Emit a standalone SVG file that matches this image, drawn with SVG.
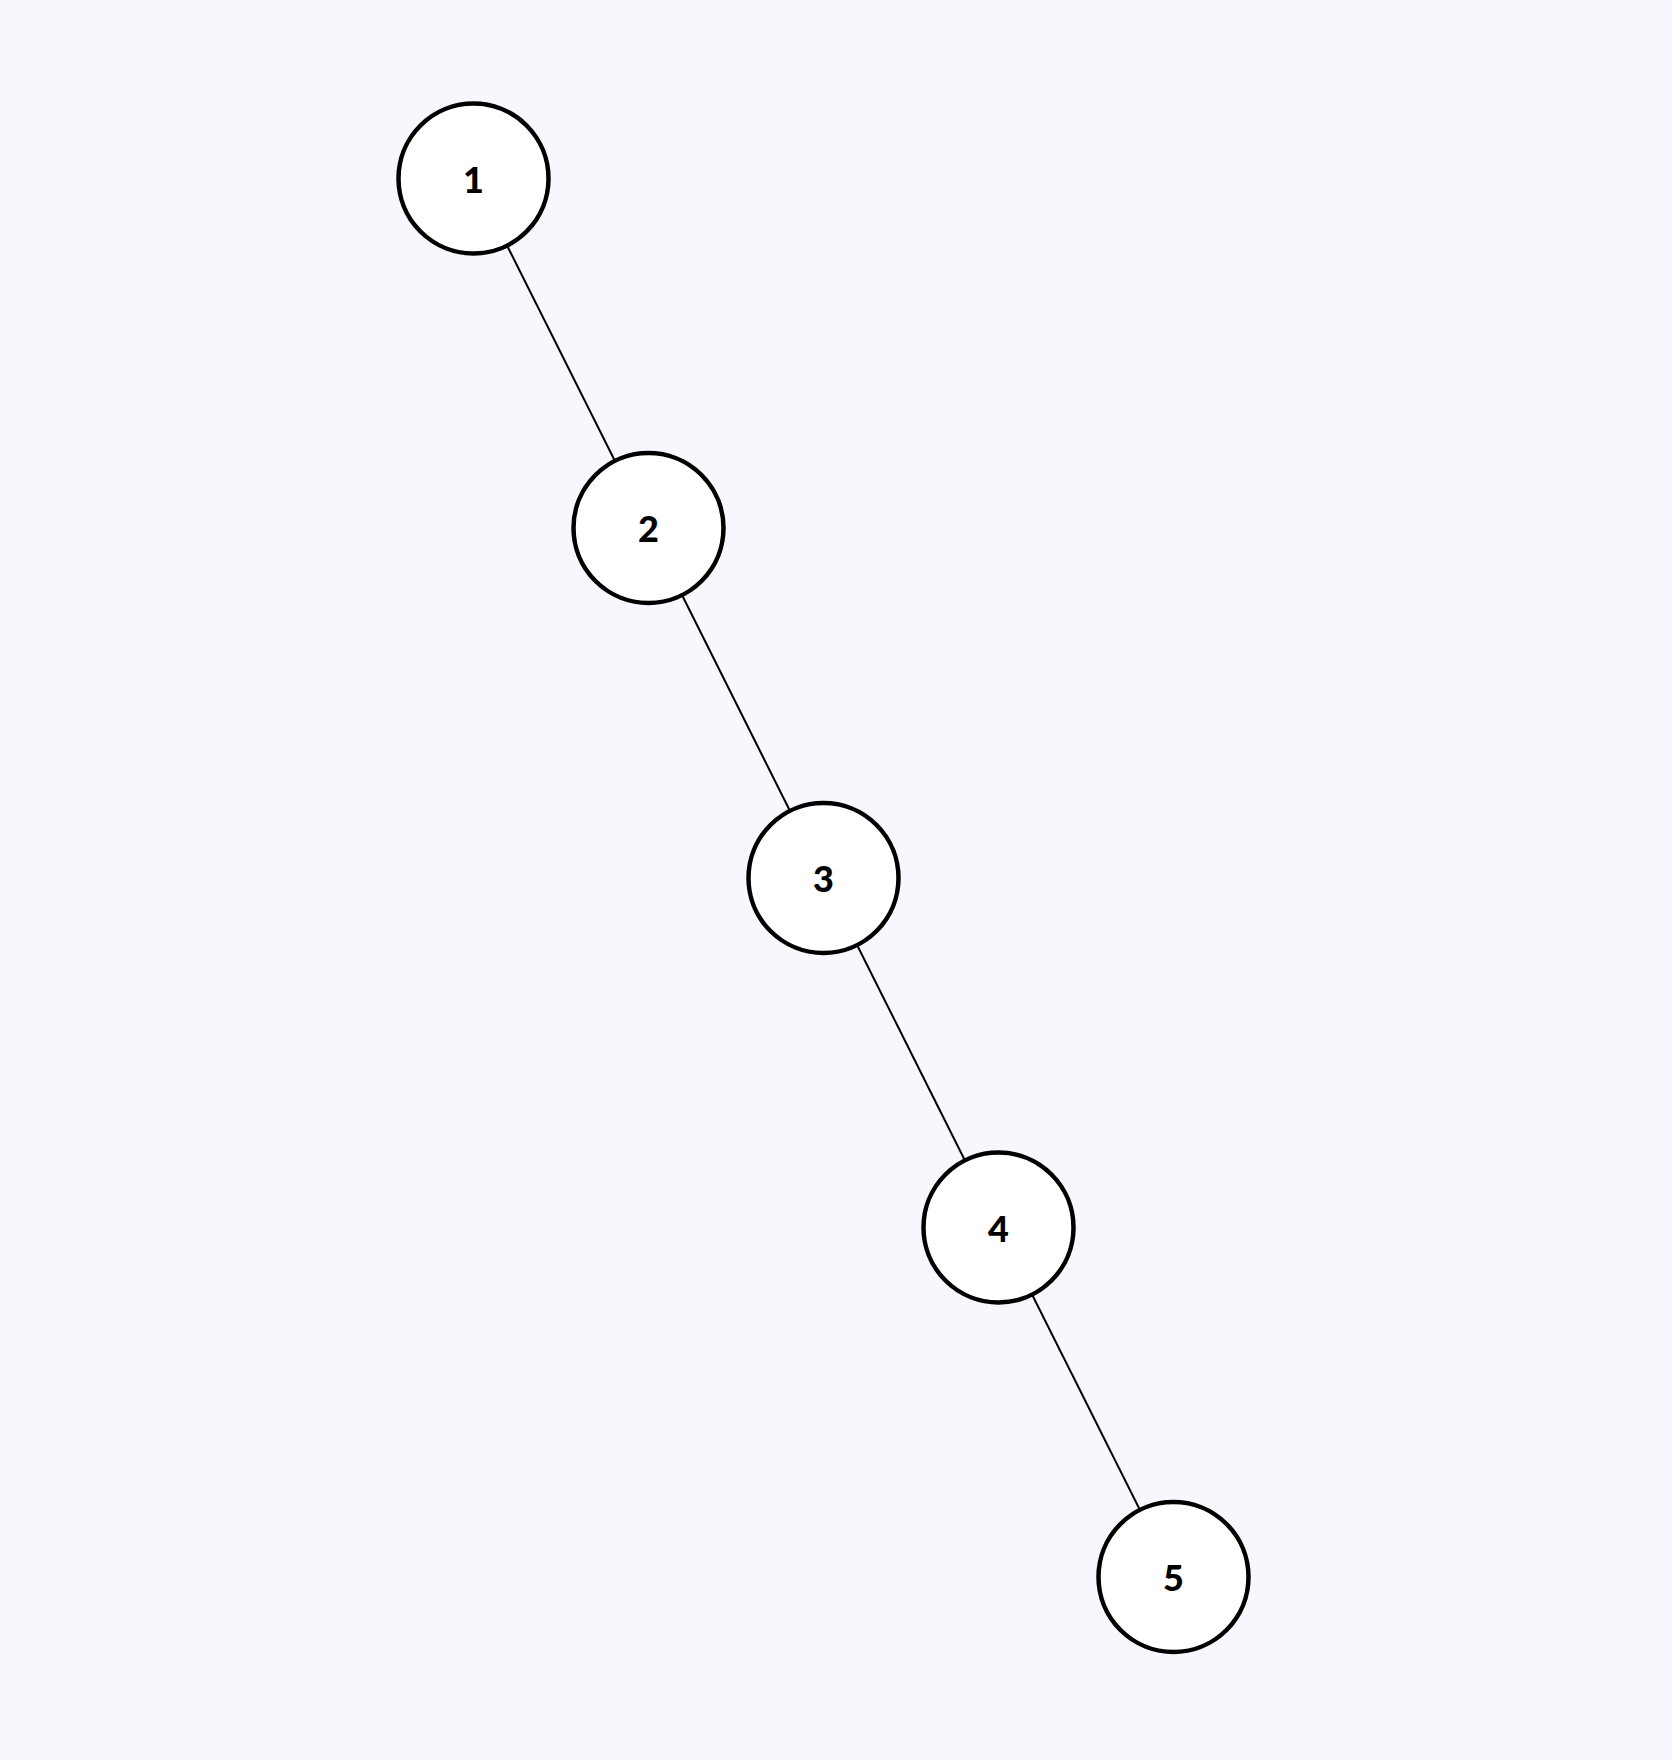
<svg xmlns="http://www.w3.org/2000/svg" width="1672" height="1760" viewBox="0 0 1672 1760">
<style>
.node circle{fill:#ffffff;stroke:#000000;stroke-width:4.5}
.node text{font-family:"Lato","Liberation Sans",sans-serif;font-weight:900;font-size:36px;fill:#000000;text-anchor:middle;dominant-baseline:central}
.edges line{stroke:#000000;stroke-width:2}
</style>
<rect width="1672" height="1760" fill="#f7f8fd"/>
<g id="edges" class="edges">
<line x1="473.5" y1="178.5" x2="648.5" y2="528"/>
<line x1="648.5" y1="528" x2="823.5" y2="878"/>
<line x1="823.5" y1="878" x2="998.5" y2="1227.5"/>
<line x1="998.5" y1="1227.5" x2="1173.5" y2="1577"/>
</g>
<g id="node1" class="node"><circle cx="473.5" cy="178.5" r="75"/><text x="473.5" y="178.5">1</text></g>
<g id="node2" class="node"><circle cx="648.5" cy="528" r="75"/><text x="648.5" y="528">2</text></g>
<g id="node3" class="node"><circle cx="823.5" cy="878" r="75"/><text x="823.5" y="878">3</text></g>
<g id="node4" class="node"><circle cx="998.5" cy="1227.5" r="75"/><text x="998.5" y="1227.5">4</text></g>
<g id="node5" class="node"><circle cx="1173.5" cy="1577" r="75"/><text x="1173.5" y="1577">5</text></g>
</svg>
